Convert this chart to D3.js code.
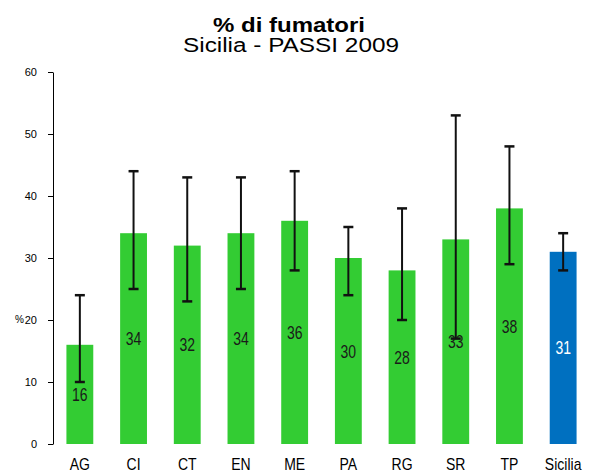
<!DOCTYPE html>
<html>
<head>
<meta charset="utf-8">
<script src="https://cdn.jsdelivr.net/npm/d3@7"></script>
<style>
  html, body { margin: 0; padding: 0; background: #fff; }
  svg { display: block; font-family: "Liberation Sans", Arial, sans-serif; }
</style>
</head>
<body>
<svg id="chart" width="592" height="474"></svg>
<script>
const categories = ["AG", "CI", "CT", "EN", "ME", "PA", "RG", "SR", "TP", "Sicilia"];
const values     = [16, 34, 32, 34, 36, 30, 28, 33, 38, 31];
const lower      = [10, 25, 23, 25, 28, 24, 20, 17, 29, 28];
const upper      = [24, 44, 43, 43, 44, 35, 38, 53, 48, 34];
const yTicks     = [0, 10, 20, 30, 40, 50, 60];
const titleText  = "% di fumatori";
const subtitleText = "Sicilia - PASSI 2009";
const yLabel     = "%";

const svg = d3.select("#chart");
const green = "#33CC33", blue = "#0070C0";

const x = d3.scaleBand().domain(categories).range([53, 590]).paddingInner(0.5).paddingOuter(0.25);
const y = d3.scaleLinear().domain([0, 60]).range([444, 72]);

// Title
svg.append("text").attr("x", 289).attr("y", 32).attr("text-anchor", "middle")
  .attr("font-size", 20).attr("font-weight", "bold")
  .attr("textLength", 152).attr("lengthAdjust", "spacingAndGlyphs")
  .text(titleText);
svg.append("text").attr("x", 291).attr("y", 52).attr("text-anchor", "middle")
  .attr("font-size", 20)
  .attr("textLength", 216).attr("lengthAdjust", "spacingAndGlyphs")
  .text(subtitleText);

// Y axis
const yAxis = svg.append("g").attr("transform", "translate(53,0)")
  .call(d3.axisLeft(y).tickValues(yTicks).tickSize(5).tickPadding(11).tickSizeOuter(0));
yAxis.select(".domain").attr("stroke", "#000").attr("stroke-width", 1);
yAxis.selectAll(".tick line").attr("stroke", "#000");
yAxis.selectAll(".tick text").attr("font-size", 11).attr("fill", "#000")
  .attr("font-family", "'Liberation Sans', Arial, sans-serif");

svg.append("text").attr("x", 15).attr("y", 323).attr("font-size", 10).text(yLabel);

// Bars
const data = categories.map((c, i) => ({c, v: values[i], lo: lower[i], hi: upper[i], i}));
svg.append("g").selectAll("rect").data(data).join("rect")
  .attr("x", d => x(d.c)).attr("width", x.bandwidth())
  .attr("y", d => y(d.v)).attr("height", d => y(0) - y(d.v))
  .attr("fill", d => d.c === "Sicilia" ? blue : green);

// Error bars
const eb = svg.append("g").attr("stroke", "#111").attr("stroke-width", 2);
data.forEach(d => {
  const cx = x(d.c) + x.bandwidth() / 2;
  eb.append("line").attr("x1", cx).attr("x2", cx).attr("y1", y(d.hi)).attr("y2", y(d.lo));
  eb.append("line").attr("x1", cx - 5).attr("x2", cx + 5).attr("y1", y(d.hi)).attr("y2", y(d.hi)).attr("stroke-width", 2.5);
  eb.append("line").attr("x1", cx - 5).attr("x2", cx + 5).attr("y1", y(d.lo)).attr("y2", y(d.lo)).attr("stroke-width", 2.5);
});

// Value labels (tall, narrow look)
svg.append("g").selectAll("g").data(data).join("g")
  .attr("transform", d => `translate(${x(d.c) + x.bandwidth() / 2},${(y(d.v) + y(0)) / 2 + 6.5}) scale(1,1.3)`)
  .append("text").attr("text-anchor", "middle").attr("font-size", 14)
  .attr("fill", d => d.c === "Sicilia" ? "#fff" : "#1a1a1a")
  .text(d => d.v);

// Category labels
svg.append("g").selectAll("g").data(categories).join("g")
  .attr("transform", c => `translate(${x(c) + x.bandwidth() / 2},470) scale(1,1.2)`)
  .append("text").attr("text-anchor", "middle").attr("font-size", 14).attr("fill", "#000")
  .text(c => c);
</script>
</body>
</html>
